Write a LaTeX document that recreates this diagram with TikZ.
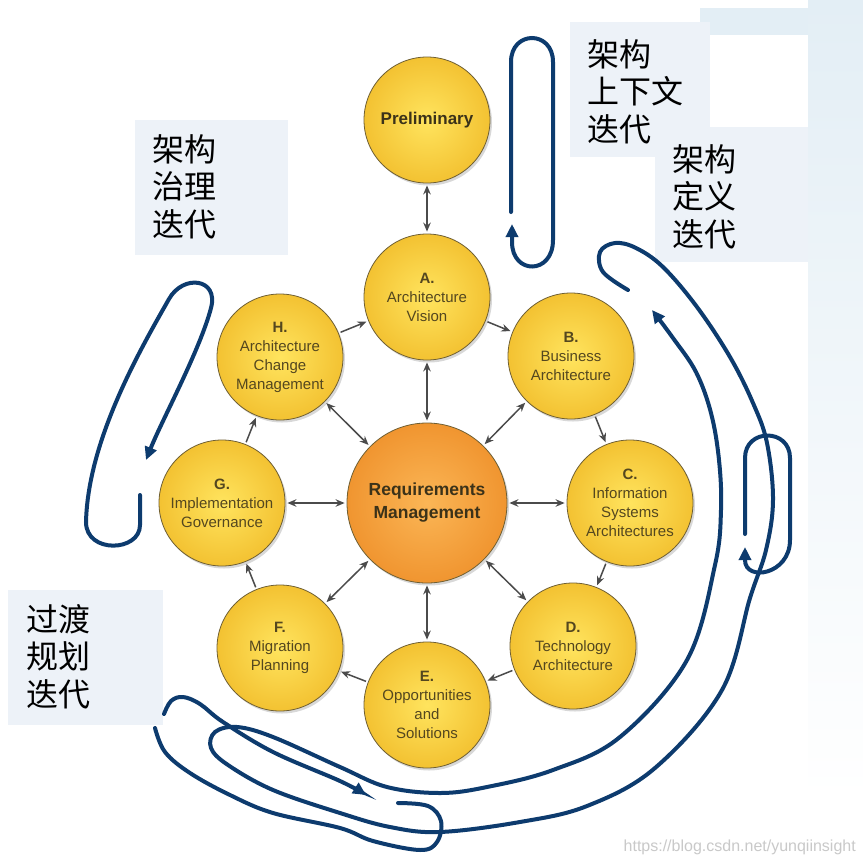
\documentclass[tikz,border=0pt]{standalone}
\usepackage{fontspec}
\setmainfont{Liberation Sans}
\newfontfamily\cjk{Noto Sans CJK SC}
\usetikzlibrary{arrows.meta,shadows}
\definecolor{ink}{HTML}{54471F}
\definecolor{inkDark}{HTML}{3B3219}
\definecolor{rim}{HTML}{6F5F33}
\definecolor{sunIn}{HTML}{FFE45E}
\definecolor{sunOut}{HTML}{F3C232}
\definecolor{coreIn}{HTML}{FBB656}
\definecolor{coreOut}{HTML}{F09530}
\definecolor{linkGray}{HTML}{4B4B4B}
\definecolor{navy}{HTML}{0D3B6E}
\definecolor{paleBox}{HTML}{EDF2F8}
\definecolor{skyTint}{HTML}{E3EEF5}
\definecolor{wmark}{HTML}{C9C9C9}
\tikzset{
  phase/.style={circle, draw=rim, line width=0.8pt, minimum size=126pt, inner sep=0pt, inner color=sunIn, outer color=sunOut, drop shadow={shadow xshift=2pt, shadow yshift=-2.5pt, opacity=0.3}, align=center, text=ink, font=\fontsize{15}{19}\selectfont},
  core/.style={phase, minimum size=160pt, inner color=coreIn, outer color=coreOut, text=inkDark, font=\bfseries\fontsize{17.5}{23}\selectfont},
  flow/.style={arrows={-Stealth[length=9pt,width=7.5pt]}, line width=1.5pt, draw=linkGray, shorten <=2pt, shorten >=2pt},
  both/.style={flow, arrows={Stealth[length=9pt,width=7.5pt]-Stealth[length=9pt,width=7.5pt]}},
  iter/.style={line width=4pt, draw=navy, line cap=round},
  iterarrow/.style={iter, arrows={-Triangle[length=13pt,width=12pt]}},
  panel/.style={fill=paleBox},
  cjklabel/.style={font=\cjk\fontsize{32}{37.5}\selectfont, align=left, anchor=north west, inner sep=0pt, text=black},
}
\begin{document}
\begin{tikzpicture}[x=1pt,y=-1pt]
  \useasboundingbox (0,0) rectangle (863,863);
  \fill[white] (0,0) rectangle (863,863);
  \fill[top color=skyTint, bottom color=white] (808,0) rectangle (863,800);
  \fill[skyTint] (700,8) rectangle (808,35);

  % label panels
  \fill[panel] (135,120) rectangle (288,255);
  \fill[panel] (570,22) rectangle (710,157);
  \fill[panel] (655,127) rectangle (808,262);
  \fill[panel] (8,590) rectangle (163,725);
  \node[cjklabel] (govtext) at (152,134) {架构\\治理\\迭代};
  \node[cjklabel] (ctxtext) at (587,39) {架构\\上下文\\迭代};
  \node[cjklabel] (deftext) at (672,144) {架构\\定义\\迭代};
  \node[cjklabel] (trantext) at (26,604) {过渡\\规划\\迭代};

  % iteration loops
  \draw[iterarrow] (511,212) -- (511,62) .. controls (511,30) and (553,30) .. (553,62) -- (553,240) .. controls (553,275) and (512,275) .. (512,242) -- (512,224);
  \draw[iterarrow] (140,495) -- (140,525) .. controls (140,552) and (86,554) .. (86,522) .. controls (88,440) and (140,350) .. (169,299) .. controls (183,274) and (219,278) .. (211,308) .. controls (200,350) and (162,420) .. (146,460);
  \draw[iterarrow] (745,534) -- (745,458) .. controls (745,428) and (790,428) .. (790,458) -- (790,540) .. controls (790,575) and (745,582) .. (745,560) -- (745,547);
  \draw[iterarrow] plot[smooth, tension=0.6] coordinates {(628,290) (603,272) (600,252) (615,243) (636,248) (663,267) (697,307) (730,357) (753,403) (767,443) (773,500) (766,550) (750,598) (722,690) (655,768) (587,806) (520,822) (440,832) (390,827) (340,813) (273,790) (228,765) (211,748) (215,732) (237,727) (273,737) (340,767) (387,787) (440,793) (487,787) (553,770) (620,737) (687,660) (715,565) (721,510) (719,460) (711,413) (696,372) (673,338) (652,310)};
  \draw[iter] plot[smooth, tension=0.6] coordinates {(398,803) (428,806) (441,821) (437,842) (420,850) (373,841) (340,828) (273,813) (230,795) (190,773) (165,752) (155,728)};
  \draw[iterarrow] plot[smooth, tension=0.6] coordinates {(164,714) (171,701) (183,697) (200,704) (223,722) (273,752) (340,781) (366,795)};

  % ADM phases
  \node[phase, text=inkDark, font=\bfseries\fontsize{17}{21}\selectfont] (prelim) at (427,120) {Preliminary};
  \node[phase] (phA) at (427,297) {\textbf{A.}\\Architecture\\Vision};
  \node[phase] (phB) at (571,356) {\textbf{B.}\\Business\\Architecture};
  \node[phase] (phC) at (630,503) {\textbf{C.}\\Information\\Systems\\Architectures};
  \node[phase] (phD) at (573,646) {\textbf{D.}\\Technology\\Architecture};
  \node[phase] (phE) at (427,705) {\textbf{E.}\\Opportunities\\and\\Solutions};
  \node[phase] (phF) at (280,648) {\textbf{F.}\\Migration\\Planning};
  \node[phase] (phG) at (222,503) {\textbf{G.}\\Implementation\\Governance};
  \node[phase] (phH) at (280,357) {\textbf{H.}\\Architecture\\Change\\Management};
  \node[core] (req) at (427,503) {Requirements\\Management};

  \draw[both] (prelim) -- (phA);
  \foreach \a/\b in {phA/phB,phB/phC,phC/phD,phD/phE,phE/phF,phF/phG,phG/phH,phH/phA}
    \draw[flow] (\a) -- (\b);
  \foreach \p in {phA,phB,phC,phD,phE,phF,phG,phH}
    \draw[both] (req) -- (\p);

  \node[anchor=south east, text=wmark, font=\fontsize{16}{18}\selectfont, inner sep=0pt] (credit) at (856,855) {https://blog.csdn.net/yunqiinsight};
\end{tikzpicture}
\end{document}
